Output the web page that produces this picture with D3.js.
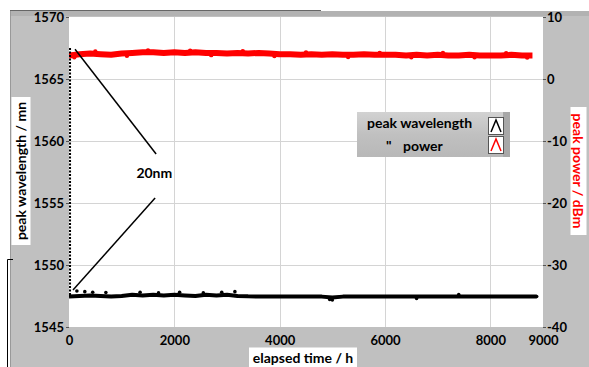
<!DOCTYPE html>
<html lang="en">
<head>
<meta charset="UTF-8">
<script src="https://d3js.org/d3.v7.min.js"></script>
<title>Peak wavelength and power vs elapsed time</title>
<style>
  body { margin: 0; background: #fff; }
  svg text { font-family: Lato, 'Open Sans', sans-serif; font-weight: bold; }
</style>
</head>
<body>
<svg id="chart" width="589" height="367"></svg>
<script>
// elapsed time samples (h)
const hours = [0,200,400,600,800,1000,1200,1400,1600,1800,2000,2200,2400,2600,2800,3000,3200,3400,3600,3800,
  4000,4200,4400,4600,4800,5000,5200,5400,5600,5800,6000,6200,6400,6600,6800,7000,7200,7400,7600,7800,
  8000,8200,8400,8600,8800];
// peak wavelength (nm)
const wavelength = [1547.45,1547.5,1547.55,1547.5,1547.45,1547.5,1547.6,1547.55,1547.6,1547.55,1547.6,1547.55,1547.5,1547.6,1547.55,1547.6,1547.5,1547.47,1547.46,1547.46,
  1547.46,1547.46,1547.45,1547.46,1547.45,1547.38,1547.45,1547.46,1547.45,1547.46,1547.46,1547.45,1547.46,1547.45,1547.46,1547.46,1547.46,1547.45,1547.46,1547.45,
  1547.46,1547.45,1547.46,1547.45,1547.46];
// stray wavelength readings [h, nm]
const wlOutliers = [[150,1547.9],[300,1547.85],[450,1547.8],[700,1547.78],[1350,1547.8],[1700,1547.75],[2100,1547.8],
  [2550,1547.75],[2900,1547.8],[3150,1547.85],[4950,1547.22],[5000,1547.18],[6600,1547.3],[7400,1547.62],[8880,1547.46]];
// start-up transient at t = 0 [h, nm]
const wlStartup = [[15,1567.5],[15,1547.5]];
// peak power (dBm)
const power = [3.8,4.0,4.1,4.0,3.9,4.1,4.2,4.3,4.3,4.2,4.3,4.2,4.3,4.2,4.2,4.1,4.2,4.1,4.2,4.1,
  4.0,4.0,3.9,4.0,3.9,4.0,3.9,3.9,4.0,3.9,3.9,3.9,3.8,3.9,3.8,3.9,3.8,3.8,3.9,3.8,
  3.8,3.8,3.9,3.8,3.8];
// stray power readings [h, dBm]
const pwOutliers = [[100,3.5],[500,4.45],[1100,3.75],[1500,4.6],[2300,4.55],[2700,3.85],[3300,4.5],[3900,3.7],
  [4500,4.3],[5300,3.55],[5900,4.2],[6500,3.5],[7100,4.2],[7700,3.5],[8300,4.15],[8700,3.45]];

const xTicks = [0,2000,4000,6000,8000,9000];
const yLeftTicks = [1545,1550,1555,1560,1565,1570];
const yRightTicks = [-40,-30,-20,-10,0,10];

// "20nm" annotation, in data units [h, nm]
const noteLines = [[[114,1567.4],[1654,1558.95]], [[1635,1555.4],[76,1547.98]]];
const noteText = {t: 1620, wl: 1557.0, label: "20nm"};

const svg = d3.select("#chart");
const plot = {left: 69, right: 543, top: 17, bottom: 327};

const x = d3.scaleLinear().domain([0, 9000]).range([plot.left, plot.right]);
const yL = d3.scaleLinear().domain([1545, 1570]).range([plot.bottom, plot.top]);
const yR = d3.scaleLinear().domain([-40, 10]).range([plot.bottom, plot.top]);

// grey panel
svg.append("rect").attr("x", 10).attr("y", 11).attr("width", 579).attr("height", 356).attr("fill", "#c0c0c0");
svg.append("rect").attr("x", 10).attr("y", 11).attr("width", 579).attr("height", 5).attr("fill", "#b2b2b2");
svg.append("line").attr("x1", 10).attr("x2", 321).attr("y1", 10.5).attr("y2", 10.5).attr("stroke", "#666");
svg.append("line").attr("x1", 10.5).attr("x2", 10.5).attr("y1", 11).attr("y2", 367).attr("stroke", "#999");
// stray bracket at the lower left
svg.append("path").attr("d", "M13,259.5H7.5V367").attr("fill", "none").attr("stroke", "#000");

// plot area
svg.append("rect").attr("x", plot.left).attr("y", plot.top)
  .attr("width", plot.right - plot.left).attr("height", plot.bottom - plot.top).attr("fill", "#fff");

// grid
const grid = svg.append("g").attr("stroke", "#d4d4d4").attr("stroke-width", 1);
grid.selectAll("line.v").data(xTicks.filter(d => d > 0 && d < 9000)).join("line")
  .attr("x1", d => Math.round(x(d)) + 0.5).attr("x2", d => Math.round(x(d)) + 0.5)
  .attr("y1", plot.top).attr("y2", plot.bottom);
grid.selectAll("line.h").data(yLeftTicks.filter(d => d > 1545 && d < 1570)).join("line")
  .attr("x1", plot.left).attr("x2", plot.right)
  .attr("y1", d => Math.round(yL(d)) + 0.5).attr("y2", d => Math.round(yL(d)) + 0.5);

// axes
const leftAxis = svg.append("g").attr("transform", `translate(${plot.left},0)`)
  .call(d3.axisLeft(yL).tickValues(yLeftTicks).tickSize(3).tickPadding(2).tickFormat(d3.format("d")));
const rightAxis = svg.append("g").attr("transform", `translate(${plot.right},0)`)
  .call(d3.axisRight(yR).tickValues(yRightTicks).tickSize(3).tickPadding(1).tickFormat(d => d < 0 ? "-" + Math.abs(d) : d));
const bottomAxis = svg.append("g").attr("transform", `translate(0,${plot.bottom})`)
  .call(d3.axisBottom(x).tickValues(xTicks).tickSize(0).tickPadding(9).tickFormat(d3.format("d")));
[leftAxis, rightAxis, bottomAxis].forEach(a => {
  a.select(".domain").remove();
  a.selectAll("line").attr("stroke", "#555");
  a.selectAll("text").attr("font-size", 13).attr("fill", "#000");
});

const clip = svg.append("clipPath").attr("id", "clip").append("rect")
  .attr("x", plot.left).attr("y", plot.top).attr("width", plot.right - plot.left + 3).attr("height", plot.bottom - plot.top);
const marks = svg.append("g").attr("clip-path", "url(#clip)");

// power series (red band)
const powerPts = hours.map((h, i) => [h, power[i]]);
marks.append("path").datum(powerPts)
  .attr("d", d3.line().x(d => x(d[0])).y(d => yR(d[1])))
  .attr("fill", "none").attr("stroke", "#ff0000").attr("stroke-width", 6).attr("stroke-linejoin", "round");
marks.selectAll("circle.pw").data(pwOutliers).join("circle")
  .attr("cx", d => x(d[0])).attr("cy", d => yR(d[1])).attr("r", 2.2).attr("fill", "#ff0000");

// wavelength series (black band)
const wlPts = hours.map((h, i) => [h, wavelength[i]]);
wlPts.push([8880, 1547.46]);
marks.append("path").datum(wlPts)
  .attr("d", d3.line().x(d => x(d[0])).y(d => yL(d[1])))
  .attr("fill", "none").attr("stroke", "#000").attr("stroke-width", 4).attr("stroke-linejoin", "round");
marks.selectAll("circle.wl").data(wlOutliers).join("circle")
  .attr("cx", d => x(d[0])).attr("cy", d => yL(d[1])).attr("r", 1.8).attr("fill", "#000");
marks.append("path").datum(wlStartup)
  .attr("d", d3.line().x(d => x(d[0])).y(d => yL(d[1])))
  .attr("stroke", "#000").attr("stroke-width", 2.5).attr("stroke-dasharray", "2,1.5");

// annotation
svg.selectAll("line.note").data(noteLines).join("line")
  .attr("x1", d => x(d[0][0])).attr("y1", d => yL(d[0][1]))
  .attr("x2", d => x(d[1][0])).attr("y2", d => yL(d[1][1]))
  .attr("stroke", "#000").attr("stroke-width", 1.5);
svg.append("text").attr("x", x(noteText.t)).attr("y", yL(noteText.wl))
  .attr("text-anchor", "middle").attr("font-size", 14).text(noteText.label);

// axis titles in white boxes
function boxedLabel(cx, cy, w, h, rot, txt, color) {
  const g = svg.append("g").attr("transform", `translate(${cx},${cy}) rotate(${rot})`);
  g.append("rect").attr("x", -w / 2).attr("y", -h / 2).attr("width", w).attr("height", h).attr("fill", "#fff");
  g.append("text").attr("text-anchor", "middle").attr("dy", "0.36em")
    .attr("font-size", 14).attr("fill", color).text(txt);
}
boxedLabel(21, 171, 148, 19, -90, "peak wavelength / mn", "#000");
boxedLabel(578.5, 171, 128, 16, 90, "peak power /  dBm", "#ff0000");
boxedLabel(303, 357.5, 108, 20, 0, "elapsed time / h", "#000");

// legend
const lg = svg.append("g");
const lgDef = svg.append("defs").append("linearGradient").attr("id", "lgGrad").attr("x1", 0).attr("x2", 0).attr("y1", 0).attr("y2", 1);
lgDef.append("stop").attr("offset", "0%").attr("stop-color", "#d2d2d2");
lgDef.append("stop").attr("offset", "50%").attr("stop-color", "#c0c0c0");
lgDef.append("stop").attr("offset", "100%").attr("stop-color", "#b8b8b8");
lg.append("rect").attr("x", 357).attr("y", 112).attr("width", 153).attr("height", 45).attr("fill", "url(#lgGrad)");
lg.append("rect").attr("x", 503).attr("y", 112).attr("width", 7).attr("height", 45).attr("fill", "#a8a8a8");
lg.append("text").attr("x", 367).attr("y", 128).attr("font-size", 14).text("peak wavelength");
lg.append("text").attr("x", 386).attr("y", 151).attr("font-size", 14).text("\"");
lg.append("text").attr("x", 403).attr("y", 151).attr("font-size", 14).text("power");
const swatches = [{y: 117, c: "#000"}, {y: 136, c: "#ff0000"}];
swatches.forEach(s => {
  lg.append("rect").attr("x", 488.5).attr("y", s.y + 0.5).attr("width", 15).attr("height", 17)
    .attr("fill", "#fff").attr("stroke", "#555");
  lg.append("path").attr("d", `M491,${s.y + 15}L496,${s.y + 3}L501,${s.y + 15}`)
    .attr("fill", "none").attr("stroke", s.c).attr("stroke-width", 1.5);
});
</script>
</body>
</html>
